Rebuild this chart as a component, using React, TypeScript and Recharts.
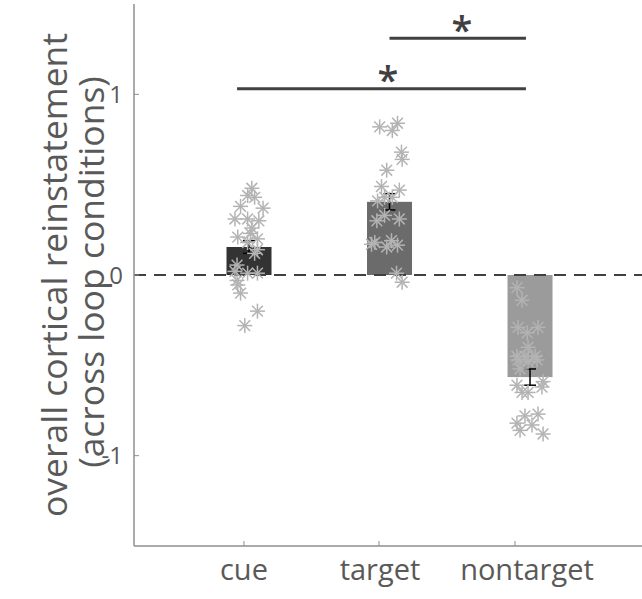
import * as React from "react"
import {
    ComposedChart,
    Bar,
    Cell,
    Scatter,
    XAxis,
    YAxis,
    ReferenceLine,
    ReferenceDot,
    ReferenceArea,
} from "recharts"

// conditions, bar means and their standard errors
const conditions = ["cue", "target", "nontarget"]
const barX = [1, 2, 3]
const means = [0.155, 0.405, -0.565]
const sems = [0.035, 0.045, 0.045]
const barColors = ["#333333", "#6b6b6b", "#9b9b9b"]

// tick positions under the bars (as drawn in the figure)
const xTicks = [0.964, 1.925, 2.893]
const yTicks = [-1, 0, 1]
const xDomain = [0.1815, 3.797]
const yDomain = [-1.5, 1.5]

// per-subject values, with horizontal jitter
const cueJitter = [0.02, 0.04, -0.01, -0.06, 0.1, -0.1, -0.01, 0.07, 0.02, 0.01, -0.08, 0.06, -0.01, 0.06, 0.04, -0.085, -0.1, -0.01, 0.06, -0.085, -0.08, -0.06, 0.06, -0.03]
const cueValues = [0.48, 0.43, 0.44, 0.38, 0.37, 0.31, 0.31, 0.3, 0.26, 0.23, 0.21, 0.2, 0.18, 0.14, 0.12, 0.055, 0.02, 0.01, 0.01, -0.03, -0.055, -0.1, -0.2, -0.28]

const targetJitter = [-0.07, 0.057, 0.02, 0.085, 0.09, -0.02, -0.057, 0.07, -0.035, -0.085, 0.02, -0.035, -0.09, 0.07, -0.105, 0.014, -0.02, 0.057, 0.05, 0.09, -0.128]
const targetValues = [0.82, 0.84, 0.8, 0.68, 0.64, 0.58, 0.49, 0.47, 0.43, 0.41, 0.43, 0.33, 0.3, 0.31, 0.18, 0.19, 0.155, 0.165, 0.01, -0.04, 0.17]

const nontargetJitter = [-0.093, -0.057, -0.085, -0.02, 0.057, -0.014, -0.093, -0.036, 0.036, -0.085, -0.014, 0.05, -0.071, -0.093, -0.057, -0.014, 0.085, 0.093, 0.057, -0.036, -0.093, 0.014, -0.071, 0.093]
const nontargetValues = [-0.07, -0.14, -0.29, -0.32, -0.29, -0.4, -0.45, -0.45, -0.45, -0.47, -0.48, -0.47, -0.52, -0.61, -0.65, -0.65, -0.62, -0.59, -0.77, -0.78, -0.82, -0.83, -0.86, -0.88]

// significance brackets: [x1, x2, y] and star positions [x, y]
const sigLines = [
    [0.915, 2.971, 1.031],
    [2.0, 2.971, 1.311],
]
const sigStars = [
    [1.989, 1.11],
    [2.516, 1.387],
]

const barData = barX.map((x, i) => ({ x, v: means[i], err: sems[i] }))
const toPoints = (center: number, jit: number[], vals: number[]) =>
    vals.map((y, i) => ({ x: center + jit[i], y }))

const groups = [
    toPoints(1, cueJitter, cueValues),
    toPoints(2, targetJitter, targetValues),
    toPoints(3, nontargetJitter, nontargetValues),
]

const FONT = "'Open Sans', sans-serif"
const TEXT = "#595959"
const AXIS = "#8f8f8f"
const BAR_W = 45
const CAP = 6

const Star = (props: any) => {
    const { cx, cy } = props
    const r = 7.5
    const d = r * 0.72
    return (
        <g stroke="#b3b3b3" strokeWidth={1.5}>
            <line x1={cx - r} y1={cy} x2={cx + r} y2={cy} />
            <line x1={cx} y1={cy - r} x2={cx} y2={cy + r} />
            <line x1={cx - d} y1={cy - d} x2={cx + d} y2={cy + d} />
            <line x1={cx - d} y1={cy + d} x2={cx + d} y2={cy - d} />
        </g>
    )
}

// bars on a number axis come out with no width, so draw them at a fixed width,
// with the error bar scaled from the bar's own pixels-per-unit
const BarShape = (props: any) => {
    const { x, y, width, height, fill, payload } = props
    const cx = x + width / 2
    const top = Math.min(y, y + height)
    const h = Math.abs(height)
    const ppu = payload.v !== 0 ? h / Math.abs(payload.v) : 0
    const endY = payload.v >= 0 ? top : top + h
    const e = payload.err * ppu
    return (
        <g>
            <rect x={cx - BAR_W / 2} y={top} width={BAR_W} height={h} fill={fill} />
            <g stroke="#000" strokeWidth={1.5}>
                <line x1={cx} y1={endY - e} x2={cx} y2={endY + e} />
                <line x1={cx - CAP} y1={endY - e} x2={cx + CAP} y2={endY - e} />
                <line x1={cx - CAP} y1={endY + e} x2={cx + CAP} y2={endY + e} />
            </g>
        </g>
    )
}

const labelShift = [0, 1, 12]

const XTick = (props: any) => {
    const { x, y, payload } = props
    const i = xTicks.indexOf(payload.value)
    if (i < 0) return null
    return (
        <g>
            <line x1={x} y1={y} x2={x} y2={y - 5} stroke={AXIS} strokeWidth={1} />
            <text
                x={x + labelShift[i]}
                y={y + 34}
                textAnchor="middle"
                fontFamily={FONT}
                fontSize={29}
                fill={TEXT}
            >
                {conditions[i]}
            </text>
        </g>
    )
}

const YTick = (props: any) => {
    const { x, y, payload } = props
    if (yTicks.indexOf(payload.value) < 0) return null
    return (
        <g>
            <line x1={x} y1={y} x2={x + 5} y2={y} stroke={AXIS} strokeWidth={1} />
            <text
                x={x - 11}
                y={y + 8.5}
                textAnchor="end"
                fontFamily={FONT}
                fontSize={24}
                fill={TEXT}
            >
                {String(payload.value)}
            </text>
        </g>
    )
}

const YLabel = () => {
    const cy = 275
    return (
        <g fontFamily={FONT} fontSize={35.5} fill={TEXT}>
            <text x={67} y={cy} textAnchor="middle" transform={`rotate(-90, 67, ${cy})`}>
                overall cortical reinstatement
            </text>
            <text x={104} y={cy - 3} textAnchor="middle" transform={`rotate(-90, 104, ${cy - 3})`}>
                (across loop conditions)
            </text>
        </g>
    )
}

const SigStar = (props: any) => {
    const { cx, cy } = props
    return (
        <text
            x={cx}
            y={cy + 20}
            textAnchor="middle"
            fontFamily={FONT}
            fontSize={38}
            fontWeight={600}
            fill="#404040"
        >
            *
        </text>
    )
}

export default function App() {
    return (
        <div style={{ position: "absolute", left: 0, top: 0, width: 642, height: 599, background: "#fff", overflow: "hidden" }}>
            <ComposedChart
                width={642}
                height={599}
                data={barData}
                margin={{ top: 4, right: 0, bottom: 0, left: 0 }}
            >
                <XAxis
                    dataKey="x"
                    type="number"
                    domain={xDomain}
                    allowDataOverflow
                    ticks={xTicks}
                    interval={0}
                    height={53}
                    tickSize={0}
                    tickMargin={0}
                    tickLine={false}
                    axisLine={false}
                    tick={<XTick />}
                />
                <YAxis
                    type="number"
                    domain={yDomain}
                    allowDataOverflow
                    ticks={yTicks}
                    width={134}
                    tickSize={0}
                    tickMargin={0}
                    tickLine={false}
                    stroke={AXIS}
                    strokeWidth={1.5}
                    tick={<YTick />}
                    label={{ content: <YLabel /> }}
                />
                <ReferenceLine y={yDomain[0]} stroke={AXIS} strokeWidth={1.5} />
                <Bar dataKey="v" shape={<BarShape />} isAnimationActive={false}>
                    {barData.map((d, i) => (
                        <Cell key={i} fill={barColors[i]} />
                    ))}
                </Bar>
                <ReferenceLine y={0} stroke="#404040" strokeWidth={2} strokeDasharray="12 8" />
                {groups.map((pts, i) => (
                    <Scatter key={i} data={pts} dataKey="y" shape={<Star />} isAnimationActive={false} />
                ))}
                {sigLines.map((s, i) => (
                    <ReferenceLine
                        key={i}
                        segment={[{ x: s[0], y: s[2] }, { x: s[1], y: s[2] }]}
                        stroke="#404040"
                        strokeWidth={3}
                    />
                ))}
                {sigStars.map((s, i) => (
                    <ReferenceDot key={i} x={s[0]} y={s[1]} r={0} shape={<SigStar />} />
                ))}
                {/* blank out a stray mark below the right end of the x axis */}
                <ReferenceArea
                    x1={3.7}
                    x2={xDomain[1]}
                    y1={-1.51}
                    y2={-1.85}
                    fill="#fff"
                    fillOpacity={1}
                    stroke="none"
                    ifOverflow="visible"
                />
            </ComposedChart>
        </div>
    )
}
